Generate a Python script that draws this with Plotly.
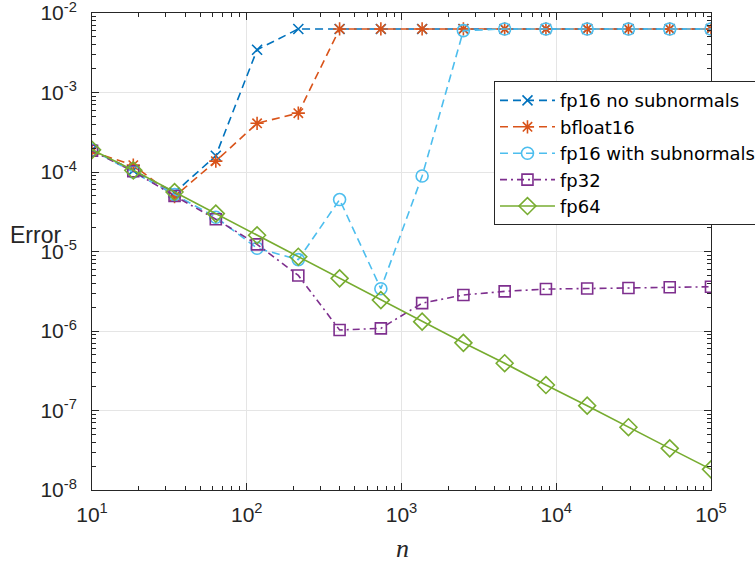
import plotly.graph_objects as go

n_vals = [10, 18.48, 34.15, 63.1, 116.6, 215.4, 398.1, 735.6, 1359.4, 2511.9,
          4641.6, 8577.6, 15848.9, 29286.4, 54117.4, 100000]

fp16_nosub = [1.9e-4, 1.05e-4, 5.5e-5, 1.6e-4, 3.45e-3, 6.3e-3, 6.3e-3, 6.3e-3,
              6.3e-3, 6.3e-3, 6.3e-3, 6.3e-3, 6.3e-3, 6.3e-3, 6.3e-3, 6.3e-3]
bfloat16 = [1.8e-4, 1.22e-4, 4.9e-5, 1.37e-4, 4.1e-4, 5.5e-4, 6.3e-3, 6.3e-3,
            6.3e-3, 6.3e-3, 6.3e-3, 6.3e-3, 6.3e-3, 6.3e-3, 6.3e-3, 6.3e-3]
fp16_sub = [1.9e-4, 1.0e-4, 5.2e-5, 2.7e-5, 1.1e-5, 7.9e-6, 4.5e-5, 3.4e-6,
            8.9e-5, 6.0e-3, 6.3e-3, 6.3e-3, 6.3e-3, 6.3e-3, 6.3e-3, 6.3e-3]
fp32 = [1.85e-4, 1.02e-4, 5.0e-5, 2.55e-5, 1.23e-5, 5.0e-6, 1.03e-6, 1.08e-6,
        2.24e-6, 2.84e-6, 3.15e-6, 3.37e-6, 3.42e-6, 3.47e-6, 3.55e-6, 3.6e-6]
fp64 = [1.9e-4, 1.05e-4, 5.6e-5, 3.0e-5, 1.6e-5, 8.6e-6, 4.6e-6, 2.45e-6,
        1.31e-6, 7.1e-7, 3.93e-7, 2.09e-7, 1.15e-7, 6.16e-8, 3.34e-8, 1.82e-8]

series_names = ["fp16 no subnormals", "bfloat16", "fp16 with subnormals", "fp32", "fp64"]

x_tickvals = [1e1, 1e2, 1e3, 1e4, 1e5]
x_ticktext = ["10<sup>1</sup>", "10<sup>2</sup>", "10<sup>3</sup>", "10<sup>4</sup>", "10<sup>5</sup>"]
y_tickvals = [1e-8, 1e-7, 1e-6, 1e-5, 1e-4, 1e-3, 1e-2]
y_ticktext = ["10<sup>-8</sup>", "10<sup>-7</sup>", "10<sup>-6</sup>", "10<sup>-5</sup>",
              "10<sup>-4</sup>", "10<sup>-3</sup>", "10<sup>-2</sup>"]

styles = [
    dict(color="#0072BD", dash="8px,5px", symbol="x-thin-open", size=10),
    dict(color="#D95319", dash="8px,5px", symbol="asterisk-open", size=11),
    dict(color="#4DBEEE", dash="8px,5px", symbol="circle-open", size=12),
    dict(color="#7E2F8E", dash="7px,4px,2px,4px", symbol="square-open", size=11),
    dict(color="#77AC30", dash="solid", symbol="diamond-open", size=13),
]
data = [fp16_nosub, bfloat16, fp16_sub, fp32, fp64]

fig = go.Figure()
for name, ys, st in zip(series_names, data, styles):
    fig.add_trace(go.Scatter(
        x=n_vals, y=ys, name=name, mode="lines+markers",
        line=dict(color=st["color"], width=1.6, dash=st["dash"]),
        marker=dict(symbol=st["symbol"], size=st["size"], color=st["color"],
                    line=dict(color=st["color"], width=1.6)),
    ))

axis_common = dict(
    type="log", showline=True, linecolor="#262626", linewidth=1, mirror="allticks",
    ticks="inside", ticklen=7, tickcolor="#262626", tickwidth=1,
    showgrid=True, gridcolor="#E5E5E5", gridwidth=1, zeroline=False,
    ticklabeloverflow="allow",
    tickfont=dict(family="Liberation Sans, Arial, sans-serif", size=21, color="#262626"),
    minor=dict(ticks="inside", ticklen=4, tickcolor="#262626", dtick="D1", showgrid=False),
)

fig.update_xaxes(range=[0.9999, 5.0001], tickvals=x_tickvals, ticktext=x_ticktext,
                 ticklabelstandoff=6, **axis_common)
fig.update_yaxes(range=[-8.0001, -1.9999], tickvals=y_tickvals, ticktext=y_ticktext,
                 ticklabelstandoff=10, **axis_common)

fig.add_annotation(text="Error", xref="paper", yref="paper", x=-0.136, y=0.534,
                   xanchor="left", yanchor="middle", showarrow=False,
                   font=dict(family="Liberation Sans, Arial, sans-serif", size=23, color="#262626"))
fig.add_annotation(text="<i>n</i>", xref="paper", yref="paper", x=0.502, y=-0.122,
                   xanchor="center", yanchor="middle", showarrow=False,
                   font=dict(family="Liberation Serif, Times New Roman, serif", size=26, color="#262626"))

fig.update_layout(
    width=755, height=563,
    margin=dict(l=92, r=44, t=13, b=73, autoexpand=False),
    paper_bgcolor="white", plot_bgcolor="white",
    showlegend=True,
    legend=dict(x=0.6494, y=0.857, xanchor="left", yanchor="top",
                bgcolor="white", bordercolor="#262626", borderwidth=1,
                font=dict(family="DejaVu Sans, Liberation Sans, sans-serif", size=18, color="black"),
                itemwidth=55, tracegroupgap=0),
)

fig.write_html("out.html", config={"displayModeBar": False},
               post_script="document.body.style.margin='0px';")
